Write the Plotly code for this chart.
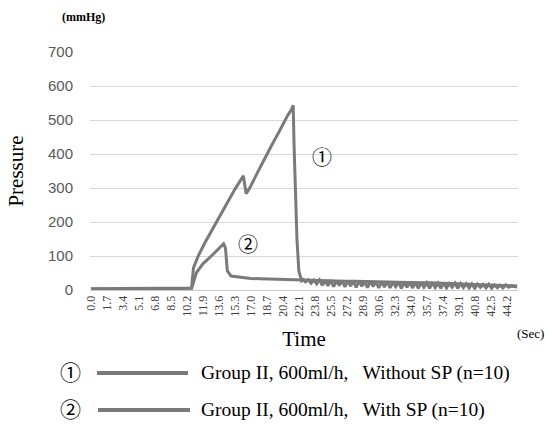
import plotly.graph_objects as go

# ---- data ----
t1 = [0.0, 2.0, 4.0, 6.0, 8.0, 10.0, 10.7, 10.9, 11.4, 12.1, 12.8, 13.7, 14.6, 15.3, 16.0, 16.2,
      16.5, 16.9, 17.7, 18.5, 19.2, 19.9, 20.4, 20.9, 21.3, 21.5, 21.6, 21.75, 21.9, 22.1, 22.4,
      22.6, 22.8, 23.1, 23.4, 23.7, 24.0, 24.3, 24.6, 24.9, 25.2, 25.5, 25.8, 26.1, 26.4, 26.7,
      27.0, 27.3, 27.6, 27.9, 28.2, 28.5, 28.8, 29.1, 29.4, 29.7, 30.0, 30.3, 30.6, 30.9, 31.2,
      31.5, 31.8, 32.1, 32.4, 32.7, 33.0, 33.3, 33.6, 33.9, 34.2, 34.5, 34.8, 35.1, 35.4, 35.7,
      36.0, 36.3, 36.6, 36.9, 37.2, 37.5, 37.8, 38.1, 38.4, 38.7, 39.0, 39.3, 39.6, 39.9, 40.2,
      40.5, 40.8, 41.1, 41.4, 41.7, 42.0, 42.3, 42.6, 42.9, 43.2, 43.5, 43.8, 44.1, 44.4, 44.7,
      45.0, 45.3]
p1 = [4, 4, 5, 4, 4, 5, 6, 65, 100, 138, 174, 218, 262, 296, 330, 336,
      283, 301, 345, 389, 425, 460, 487, 513, 530, 543, 420, 292, 150, 56, 27,
      31, 24, 30, 20, 29, 18, 30, 14, 28, 12, 29, 10, 27, 13, 28,
      9, 27, 12, 26, 8, 27, 11, 25, 7, 26, 10, 25, 6, 24, 9,
      25, 6, 23, 10, 24, 5, 23, 8, 22, 6, 23, 5, 22, 8, 21,
      5, 22, 7, 20, 5, 21, 6, 19, 8, 20, 5, 19, 7, 18, 6,
      18, 5, 17, 8, 16, 6, 17, 5, 15, 7, 14, 6, 15, 8, 12,
      10, 9]

t2 = [0.0, 2.0, 4.0, 6.0, 8.0, 10.0, 10.7, 11.2, 11.9, 12.8, 13.5, 14.1, 14.3, 14.5, 14.9, 16.4,
      17.0, 18.0, 19.0, 20.0, 21.0, 22.0, 23.0, 24.0, 25.0, 26.0, 27.0, 28.0, 29.0, 30.0, 31.0,
      32.0, 33.0, 34.0, 35.0, 36.0, 37.0, 38.0, 39.0, 40.0, 41.0, 42.0, 43.0, 44.0, 45.3]
p2 = [3, 4, 3, 4, 3, 4, 5, 50, 77, 100, 121, 136, 124, 56, 41, 35,
      34, 33, 32, 31, 30, 30, 29, 28, 28, 27, 26, 26, 25, 24, 24,
      23, 23, 22, 21, 21, 20, 19, 19, 18, 17, 16, 14, 13, 12]

tick_vals = [0.0, 1.7, 3.4, 5.1, 6.8, 8.5, 10.2, 11.9, 13.6, 15.3, 17.0, 18.7, 20.4, 22.1,
             23.8, 25.5, 27.2, 28.9, 30.6, 32.3, 34.0, 35.7, 37.4, 39.1, 40.8, 42.5, 44.2]
tick_text = [f"{v:.1f}" for v in tick_vals]

legend_labels = ["Group II, 600ml/h,   Without SP (n=10)", "Group II, 600ml/h,   With SP (n=10)"]
markers = ["①", "②"]

LINE = "#7a7a7a"
SERIF = "Liberation Serif, Noto Serif, Noto Sans CJK JP, serif"

# plot area in pixels (for placing paper-referenced texts)
L, R, T, B = 90, 518, 52, 290
def px(x):
    return (x - L) / (R - L)
def py(y):
    return (B - y) / (B - T)

fig = go.Figure()
fig.add_trace(go.Scatter(x=t1, y=p1, mode="lines", line=dict(color=LINE, width=3), showlegend=False))
fig.add_trace(go.Scatter(x=t2, y=p2, mode="lines", line=dict(color=LINE, width=3), showlegend=False))

fig.update_layout(
    width=545, height=424,
    margin=dict(l=L, r=545 - R, t=T, b=424 - B),
    paper_bgcolor="white", plot_bgcolor="white",
    xaxis=dict(range=[-0.1, 45.4], tickmode="array", tickvals=tick_vals, ticktext=tick_text,
               tickangle=-90, tickfont=dict(family=SERIF, size=12, color="#404040"),
               showgrid=False, zeroline=False, showline=True, linecolor="#c8c8c8", linewidth=1,
               ticks="", title=dict(text="Time", font=dict(family=SERIF, size=21, color="#000"), standoff=15)),
    yaxis=dict(range=[0, 700], dtick=100, showgrid=True, gridcolor="#d9d9d9", gridwidth=1,
               zeroline=False, ticks="", ticklabelstandoff=16,
               tickfont=dict(family="Liberation Sans, Arial", size=15, color="#595959"),
               title=dict(text="Pressure", font=dict(family=SERIF, size=21, color="#000"), standoff=18)),
)

# in-plot circled labels
fig.add_annotation(x=24.6, y=389, xref="x", yref="y", text="①", showarrow=False,
                   xanchor="center", yanchor="middle", font=dict(family=SERIF, size=20, color="#000"))
fig.add_annotation(x=16.7, y=133, xref="x", yref="y", text="②", showarrow=False,
                   xanchor="center", yanchor="middle", font=dict(family=SERIF, size=20, color="#000"))

# units
fig.add_annotation(x=px(60), y=py(17), xref="paper", yref="paper", text="<b>(mmHg)</b>",
                   xanchor="left", yanchor="middle",
                   showarrow=False, font=dict(family=SERIF, size=12, color="#000"))
fig.add_annotation(x=px(530), y=py(333), xref="paper", yref="paper", text="(Sec)",
                   xanchor="center", yanchor="middle",
                   showarrow=False, font=dict(family=SERIF, size=13, color="#000"))

# custom legend
rows_y = [373, 410]
for i, (m, lab) in enumerate(zip(markers, legend_labels)):
    yy = py(rows_y[i])
    fig.add_annotation(x=px(70), y=yy, xref="paper", yref="paper", text=m, showarrow=False,
                       xanchor="center", yanchor="middle",
                       font=dict(family=SERIF, size=21, color="#000"))
    fig.add_shape(type="line", xref="paper", yref="paper", x0=px(97 + i), x1=px(188 + 2 * i),
                  y0=yy, y1=yy, line=dict(color=LINE, width=4))
    fig.add_annotation(x=px(199), y=yy, xref="paper", yref="paper", text=lab, showarrow=False,
                       xanchor="left", yanchor="middle", font=dict(family=SERIF, size=19.5, color="#000"))

fig.write_html("out.html", config={"displayModeBar": False},
               post_script="document.body.style.margin='0';")
